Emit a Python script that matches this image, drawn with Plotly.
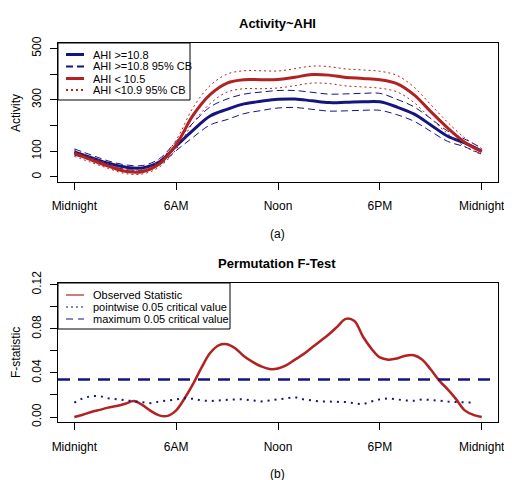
import plotly.graph_objects as go

# ---------------- data ----------------
hours = list(range(25))
tick_hours = [0, 6, 12, 18, 24]
tick_labels = ["Midnight", "6AM", "Noon", "6PM", "Midnight"]

ahi_high = [97, 75, 53, 38, 35, 58, 120, 182, 237, 263, 284, 294, 302, 303, 296, 289, 290, 292, 292, 272, 245, 202, 158, 132, 100]
ahi_high_up = [109, 85, 62, 47, 44, 70, 138, 210, 272, 303, 322, 330, 336, 336, 329, 322, 323, 325, 325, 302, 273, 227, 178, 147, 112]
ahi_high_lo = [85, 65, 44, 29, 26, 46, 102, 154, 202, 223, 246, 258, 268, 270, 263, 256, 257, 259, 259, 242, 217, 177, 138, 117, 88]

ahi_low = [92, 66, 42, 22, 20, 50, 125, 240, 320, 365, 378, 378, 379, 388, 398, 396, 387, 383, 378, 363, 320, 254, 190, 135, 98]
ahi_low_up = [104, 76, 51, 31, 29, 62, 143, 270, 355, 400, 413, 413, 412, 421, 431, 429, 420, 416, 411, 395, 350, 281, 212, 152, 110]
ahi_low_lo = [80, 56, 33, 13, 11, 38, 107, 210, 285, 330, 343, 343, 346, 355, 365, 363, 354, 350, 345, 331, 290, 227, 168, 118, 86]

f_hours = [i * 0.5 for i in range(49)]
f_observed = [0.000, 0.002, 0.0045, 0.0065, 0.0085, 0.010, 0.012, 0.0145, 0.011, 0.0055,
              0.0015, 0.001, 0.006, 0.017, 0.030, 0.045, 0.058, 0.065, 0.066, 0.062,
              0.055, 0.050, 0.046, 0.0435, 0.044, 0.047, 0.052, 0.057, 0.063, 0.069,
              0.075, 0.082, 0.089, 0.087, 0.073, 0.062, 0.054, 0.052, 0.053, 0.0555,
              0.056, 0.052, 0.043, 0.033, 0.025, 0.016, 0.006, 0.002, 0.000]
p_hours = [i * 0.5 for i in range(48)]
f_pointwise = [0.013, 0.017, 0.019, 0.019, 0.017, 0.016, 0.015, 0.014, 0.013, 0.0125,
               0.014, 0.015, 0.016, 0.017, 0.0165, 0.015, 0.0145, 0.015, 0.016, 0.016,
               0.016, 0.015, 0.014, 0.015, 0.016, 0.0175, 0.018, 0.016, 0.015, 0.014,
               0.014, 0.014, 0.0135, 0.0125, 0.0115, 0.014, 0.016, 0.017, 0.016, 0.015,
               0.0147, 0.016, 0.0155, 0.0145, 0.014, 0.0135, 0.013, 0.013]
f_max_crit = 0.034

top_legend = ["AHI >=10.8", "AHI >=10.8 95% CB", "AHI < 10.5", "AHI <10.9 95% CB"]
bot_legend = ["Observed Statistic", "pointwise 0.05 critical value", "maximum 0.05 critical value"]

BLUE = "#15157f"
RED = "#b22222"
FONT = "Liberation Sans, Arial, sans-serif"

# page offset (browser body margin) compensation
OFF = 8
W, H = 512 - OFF, 480 - OFF


def px(x):
    return (x - OFF) / W


def py(y):
    return 1 - (y - OFF) / H


DASH_B = "7px,4px"
DOT_R = "2px,3px"
s_main_b = dict(color=BLUE, width=3)
s_cb_b = dict(color=BLUE, width=1, dash=DASH_B)
s_main_r = dict(color=RED, width=3)
s_cb_r = dict(color=RED, width=1, dash=DOT_R)
s_obs = dict(color=RED, width=2.5)
s_pw = dict(color=BLUE, width=2, dash="2px,5px")
s_max = dict(color=BLUE, width=2.5, dash="12px,8px")

fig = go.Figure()

# ---------- top panel ----------
for yv, st, nm in [(ahi_high, s_main_b, top_legend[0]),
                   (ahi_high_up, s_cb_b, top_legend[1]),
                   (ahi_high_lo, s_cb_b, top_legend[1]),
                   (ahi_low, s_main_r, top_legend[2]),
                   (ahi_low_up, s_cb_r, top_legend[3]),
                   (ahi_low_lo, s_cb_r, top_legend[3])]:
    fig.add_trace(go.Scatter(x=hours, y=yv, mode="lines", name=nm,
                             line=dict(shape="spline", **st),
                             xaxis="x", yaxis="y", showlegend=False))

# ---------- bottom panel ----------
fig.add_trace(go.Scatter(x=f_hours, y=f_observed, mode="lines", name=bot_legend[0],
                         line=dict(shape="spline", **s_obs),
                         xaxis="x2", yaxis="y2", showlegend=False))
fig.add_trace(go.Scatter(x=p_hours, y=f_pointwise, mode="lines", name=bot_legend[1],
                         line=s_pw, xaxis="x2", yaxis="y2", showlegend=False))
fig.add_trace(go.Scatter(x=[-0.96, 24.96], y=[f_max_crit, f_max_crit], mode="lines",
                         name=bot_legend[2], line=s_max,
                         xaxis="x2", yaxis="y2", showlegend=False))

xdom = [px(58), px(498)]
top_dom = [py(182), py(43)]
bot_dom = [py(422.3), py(283)]

axis_common = dict(showline=True, linecolor="black", linewidth=1, mirror=True,
                   ticks="outside", ticklen=7, tickwidth=1, tickcolor="black",
                   showgrid=False, zeroline=False, automargin=False,
                   tickfont=dict(family=FONT, size=12, color="black"))

fig.update_layout(
    width=W, height=H,
    margin=dict(l=0, r=0, t=0, b=0, pad=0, autoexpand=False),
    paper_bgcolor="white", plot_bgcolor="white",
    font=dict(family=FONT, size=12, color="black"),
    showlegend=False,
    xaxis=dict(domain=xdom, anchor="y", range=[-0.96, 24.96],
               tickvals=tick_hours, ticktext=tick_labels, ticklabelstandoff=6, **axis_common),
    yaxis=dict(domain=top_dom, anchor="x", range=[-20, 521],
               tickvals=[0, 100, 200, 300, 400, 500],
               ticktext=["0", "100", "", "300", "", "500"], tickangle=-90,
               ticklabelstandoff=4, **axis_common),
    xaxis2=dict(domain=xdom, anchor="y2", range=[-0.96, 24.96],
                tickvals=tick_hours, ticktext=tick_labels, ticklabelstandoff=6, **axis_common),
    yaxis2=dict(domain=bot_dom, anchor="x2", range=[-0.0048, 0.1215],
                tickvals=[0, 0.02, 0.04, 0.06, 0.08, 0.10, 0.12],
                ticktext=["0.00", "", "0.04", "", "0.08", "", "0.12"], tickangle=-90,
                ticklabelstandoff=4, **axis_common),
)

# ---------- legends (drawn as boxes with line samples and text) ----------
shapes = []
annotations = []


def legend_box(x0, y0, x1, y1, rows, labels, styles):
    shapes.append(dict(type="rect", xref="paper", yref="paper", layer="above",
                       x0=px(x0), x1=px(x1), y0=py(y1), y1=py(y0),
                       line=dict(color="black", width=1), fillcolor="white"))
    for ry, lab, st in zip(rows, labels, styles):
        ln = dict(color=st["color"], width=st["width"])
        if "dash" in st:
            ln["dash"] = st["dash"]
        shapes.append(dict(type="line", xref="paper", yref="paper", layer="above",
                           x0=px(66), x1=px(84), y0=py(ry), y1=py(ry), line=ln))
        annotations.append(dict(text=lab, x=px(91), y=py(ry), xanchor="left", yanchor="middle",
                                font=dict(size=11)))


legend_box(58, 43, 190, 100, [54.5, 66.5, 78.5, 90],
           top_legend,
           [s_main_b, dict(color=BLUE, width=2, dash=DASH_B), s_main_r,
            dict(color=RED, width=2, dash=DOT_R)])
legend_box(58, 283, 230, 329, [295, 307, 319],
           bot_legend,
           [dict(color=RED, width=1.2), dict(color=BLUE, width=1, dash="2px,3px"),
            dict(color=BLUE, width=1.2, dash="7px,5px")])

annotations += [
    dict(text="<b>Activity~AHI</b>", x=px(277), y=py(23), font=dict(size=13)),
    dict(text="<b>Permutation F-Test</b>", x=px(277), y=py(263), font=dict(size=13)),
    dict(text="(a)", x=px(277), y=py(234), font=dict(size=12)),
    dict(text="(b)", x=px(277), y=py(474), font=dict(size=12)),
    dict(text="Activity", x=0, y=py(113), textangle=-90, xanchor="left",
         borderpad=0, font=dict(size=12)),
    dict(text="F-statistic", x=0, y=py(353), textangle=-90, xanchor="left",
         borderpad=0, font=dict(size=12)),
]
for a in annotations:
    a.setdefault("xanchor", "center")
    a.setdefault("yanchor", "middle")
    a.update(xref="paper", yref="paper", showarrow=False)
    a["font"]["family"] = FONT
    a["font"]["color"] = "black"

fig.update_layout(shapes=shapes, annotations=annotations)

fig.write_html("out.html")
